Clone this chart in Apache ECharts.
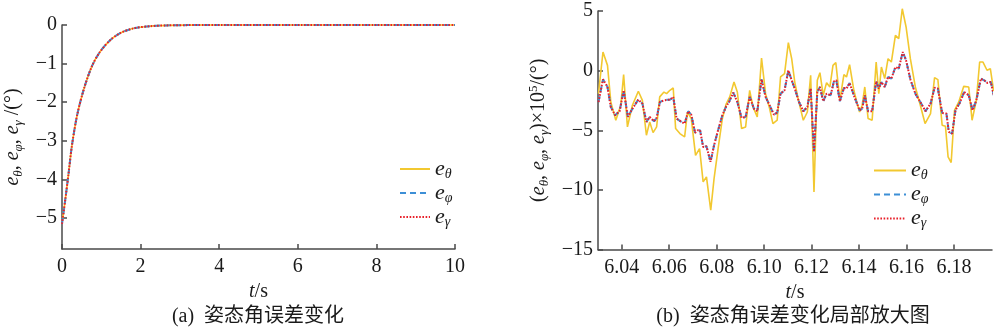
<!DOCTYPE html>
<html>
<head>
<meta charset="utf-8">
<script src="https://cdn.jsdelivr.net/npm/echarts@6/dist/echarts.min.js"></script>
<style>
  html, body { margin: 0; padding: 0; background: #fff; }
  #chart { width: 1000px; height: 330px; }
</style>
</head>
<body>
<div id="chart"></div>
<script>
// ---- (a) full run, 0–10 s: the three attitude-angle errors coincide (deg)
const tFull      = [0, 0.085, 0.17, 0.25, 0.38, 0.55, 0.76, 0.97, 1.23, 1.48, 1.82, 2.25, 2.67, 3.2, 4, 6, 8, 10];
const eThetaFull = [-5.15, -4.51, -3.82, -3.14, -2.36, -1.68, -1.07, -0.69, -0.39, -0.21, -0.086, -0.03, -0.01, -0.003, 0, 0, 0, 0];
const ePhiFull   = [-5.15, -4.51, -3.82, -3.14, -2.36, -1.68, -1.07, -0.69, -0.39, -0.21, -0.086, -0.03, -0.01, -0.003, 0, 0, 0, 0];
const eGammaFull = [-5.15, -4.51, -3.82, -3.14, -2.36, -1.68, -1.07, -0.69, -0.39, -0.21, -0.086, -0.03, -0.01, -0.003, 0, 0, 0, 0];

// ---- (b) zoomed window 6.03–6.20 s, errors ×1e5 (deg)
const tThetaZoom = [6.0302, 6.0321, 6.0340, 6.0354, 6.0375, 6.0396, 6.0408, 6.0424, 6.0445, 6.0470, 6.0487, 6.0504, 6.0518, 6.0532, 6.0547, 6.0560, 6.0578, 6.0589, 6.0603, 6.0617, 6.0627, 6.0645, 6.0665, 6.0677, 6.0693, 6.0711, 6.0728, 6.0743, 6.0757, 6.0775, 6.0789, 6.0806, 6.0824, 6.0840, 6.0855, 6.0873, 6.0887, 6.0905, 6.0922, 6.0939, 6.0953, 6.0971, 6.0989, 6.1006, 6.1023, 6.1037, 6.1055, 6.1069, 6.1086, 6.1102, 6.1116, 6.1129, 6.1143, 6.1165, 6.1182, 6.1196, 6.1210, 6.1224, 6.1235, 6.1249, 6.1263, 6.1277, 6.1290, 6.1302, 6.1319, 6.1336, 6.1347, 6.1360, 6.1378, 6.1390, 6.1402, 6.1413, 6.1424, 6.1438, 6.1455, 6.1472, 6.1483, 6.1494, 6.1508, 6.1522, 6.1536, 6.1553, 6.1567, 6.1582, 6.1598, 6.1616, 6.1637, 6.1658, 6.1678, 6.1701, 6.1718, 6.1732, 6.1750, 6.1764, 6.1775, 6.1788, 6.1802, 6.1820, 6.1841, 6.1862, 6.1876, 6.1894, 6.1908, 6.1922, 6.1939, 6.1953, 6.1967, 6.1981, 6.1996];
const eThetaZoom = [-1.93, 1.56, 0.44, -2.62, -4.17, -2.90, -0.34, -4.72, -2.90, -1.73, -2.50, -5.42, -4.30, -5.20, -4.72, -2.20, -1.80, -1.93, -1.65, -1.46, -4.86, -5.28, -5.56, -3.47, -4.02, -7.10, -6.54, -9.33, -8.91, -11.71, -9.05, -6.54, -4.02, -2.80, -2.20, -0.96, -1.79, -4.86, -4.72, -1.65, -3.05, -3.88, 1.06, -1.93, -3.19, -4.44, -4.16, -0.53, -0.25, 2.34, 1.00, -0.96, -2.35, -4.16, -3.47, -0.39, -10.17, -0.81, -0.17, -2.07, -1.01, -1.37, 0.44, 0.67, -2.49, -0.34, -0.53, 0.50, -1.65, -2.60, -3.47, -2.90, -1.37, -4.02, -4.16, 0.72, -1.93, 0.30, -0.67, 1.00, 0.72, 2.96, 2.68, 5.19, 3.66, 1.00, -1.37, -2.90, -4.44, -3.60, -0.59, -0.76, -4.58, -4.67, -7.24, -7.71, -3.33, -2.63, -1.32, -1.37, -4.16, -2.49, 0.72, 0.72, 0.03, 0.16, -1.70, -1.10, -1.30];

const tPhiZoom = [6.0302, 6.0321, 6.0340, 6.0354, 6.0372, 6.0391, 6.0408, 6.0426, 6.0445, 6.0470, 6.0487, 6.0504, 6.0518, 6.0536, 6.0547, 6.0561, 6.0578, 6.0590, 6.0603, 6.0617, 6.0631, 6.0648, 6.0665, 6.0680, 6.0693, 6.0709, 6.0721, 6.0730, 6.0743, 6.0757, 6.0774, 6.0789, 6.0806, 6.0824, 6.0840, 6.0852, 6.0870, 6.0887, 6.0905, 6.0922, 6.0939, 6.0957, 6.0971, 6.0989, 6.1006, 6.1023, 6.1041, 6.1055, 6.1069, 6.1086, 6.1102, 6.1116, 6.1129, 6.1147, 6.1165, 6.1182, 6.1196, 6.1210, 6.1224, 6.1235, 6.1249, 6.1263, 6.1280, 6.1294, 6.1304, 6.1319, 6.1336, 6.1347, 6.1360, 6.1378, 6.1392, 6.1402, 6.1413, 6.1424, 6.1438, 6.1455, 6.1472, 6.1483, 6.1494, 6.1508, 6.1522, 6.1536, 6.1553, 6.1567, 6.1584, 6.1598, 6.1616, 6.1637, 6.1658, 6.1680, 6.1701, 6.1718, 6.1732, 6.1750, 6.1768, 6.1778, 6.1792, 6.1806, 6.1824, 6.1843, 6.1862, 6.1878, 6.1894, 6.1913, 6.1927, 6.1941, 6.1955, 6.1969, 6.1983, 6.1996];
const ePhiZoom = [-2.63, -0.73, -1.37, -3.05, -3.74, -3.41, -1.65, -3.88, -3.19, -2.43, -2.77, -4.30, -3.88, -4.25, -3.97, -2.63, -2.49, -2.45, -2.45, -2.20, -4.02, -4.25, -4.44, -3.41, -3.69, -5.22, -5.00, -5.00, -6.40, -6.34, -7.65, -6.26, -5.00, -3.74, -3.00, -2.63, -1.85, -2.63, -3.97, -3.88, -2.20, -3.19, -3.41, -0.73, -2.20, -2.90, -3.69, -3.52, -1.93, -1.65, 0.03, -0.81, -1.51, -2.63, -3.41, -3.05, -1.51, -6.81, -1.79, -1.37, -2.57, -1.93, -2.07, -0.90, -0.81, -2.57, -1.46, -1.51, -1.04, -2.07, -2.80, -3.33, -3.19, -2.07, -3.41, -3.41, -0.90, -1.51, -0.96, -1.37, -0.53, -0.67, 0.30, 0.16, 1.56, 0.86, -0.73, -1.93, -2.63, -3.40, -2.77, -1.43, -1.51, -3.55, -3.60, -5.14, -5.28, -3.33, -2.71, -1.79, -2.07, -3.33, -2.49, -0.67, -0.81, -1.04, -0.95, -2.21, -1.65, -1.65];
// e_gamma tracks e_phi sample for sample in this window
const tGammaZoom = tPhiZoom.slice();
const eGammaZoom = ePhiZoom.slice();

const seriesNames = ['eθ', 'eφ', 'eγ'];
const subOf = { 'eθ': 'θ', 'eφ': 'φ', 'eγ': 'γ' };

const SERIF = "'Liberation Serif', 'Times New Roman', serif";
const CAPTION_FONT = "'Liberation Serif', 'Noto Sans CJK SC', serif";
const AXIS_COLOR = '#4a4a4a';
const TEXT_COLOR = '#1a1a1a';
const COLORS = { theta: '#F2C830', phi: '#3D8FD6', gamma: '#E8202A' };
const TICK_FONT = 20;

const pairs = (xs, ys) => xs.map((x, i) => [x, ys[i]]);
const minus = (s) => String(s).replace(/-/g, '\u2212');

// rich-text pieces shared by axis names
const rich = {
  e:   { fontFamily: SERIF, fontStyle: 'italic', fontSize: 20, lineHeight: 24, color: TEXT_COLOR },
  s:   { fontFamily: SERIF, fontStyle: 'italic', fontSize: 13, lineHeight: 13, verticalAlign: 'bottom', color: TEXT_COLOR },
  n:   { fontFamily: SERIF, fontSize: 20, lineHeight: 24, color: TEXT_COLOR },
  sup: { fontFamily: SERIF, fontSize: 13, lineHeight: 13, verticalAlign: 'top', color: TEXT_COLOR }
};
// slightly larger symbols in the legends
const legendRich = {
  e: { fontFamily: SERIF, fontStyle: 'italic', fontSize: 22, lineHeight: 24, color: TEXT_COLOR },
  s: { fontFamily: SERIF, fontStyle: 'italic', fontSize: 14, lineHeight: 14, verticalAlign: 'bottom', color: TEXT_COLOR }
};

function baseAxis(extra) {
  return Object.assign({
    type: 'value',
    axisLine: { show: true, onZero: false, lineStyle: { color: AXIS_COLOR, width: 1.5 } },
    axisTick: { show: true, inside: true, length: 5, lineStyle: { color: AXIS_COLOR, width: 1.5 } },
    splitLine: { show: false },
    axisLabel: { color: TEXT_COLOR, fontFamily: SERIF, fontSize: TICK_FONT, margin: 6 },
    nameTextStyle: { rich: rich }
  }, extra);
}

function lineSeries(name, kind, grid, data, smooth) {
  const style = {
    theta: { color: COLORS.theta, width: 1.6, type: 'solid' },
    phi:   { color: COLORS.phi,   width: 2,   type: [6, 4] },
    gamma: { color: COLORS.gamma, width: 2,   type: [1.6, 1.6] }
  }[kind];
  return {
    name: name, type: 'line', xAxisIndex: grid, yAxisIndex: grid,
    data: data, showSymbol: false, symbol: 'none', smooth: smooth,
    clip: false, animation: false,
    itemStyle: { color: style.color },
    lineStyle: style
  };
}

const legendFormatter = (name) => '{e|e}{s|' + subOf[name] + '}';

function legendAt(left, top, width) {
  return {
    data: seriesNames, orient: 'vertical', left: left, top: top,
    itemWidth: width, itemHeight: 14, itemGap: 0,
    formatter: legendFormatter,
    textStyle: { rich: legendRich, lineHeight: 24 },
    // line sample only, no marker on it
    itemStyle: { opacity: 0, color: 'rgba(0,0,0,0)', borderWidth: 0 },
    selectedMode: false
  };
}

const option = {
  animation: false,
  backgroundColor: '#ffffff',
  grid: [
    { left: 62, top: 25, width: 393, height: 224 },
    { left: 598, top: 11, width: 394, height: 238.5 }
  ],
  xAxis: [
    baseAxis({
      gridIndex: 0, min: 0, max: 10, splitNumber: 5,
      name: '{e|t}{n|/s}', nameLocation: 'middle', nameGap: 27,
      axisLabel: { color: TEXT_COLOR, fontFamily: SERIF, fontSize: TICK_FONT, margin: 8 }
    }),
    baseAxis({
      gridIndex: 1, min: 6.03, max: 6.196, splitNumber: 8,
      name: '{e|t}{n|/s}', nameLocation: 'middle', nameGap: 27,
      axisLabel: {
        color: TEXT_COLOR, fontFamily: SERIF, fontSize: TICK_FONT, margin: 8,
        showMinLabel: false, showMaxLabel: false,
        formatter: (v) => {
          const k = Math.round(v / 0.02);
          return Math.abs(v - k * 0.02) < 1e-6 ? v.toFixed(2) : '';
        }
      }
    })
  ],
  yAxis: [
    baseAxis({
      gridIndex: 0, min: -5.8, max: 0, splitNumber: 6,
      name: '{e|e}{s|θ}{n|, }{e|e}{s|φ}{n|, }{e|e}{s|γ}{n| /(°)}',
      nameLocation: 'middle', nameGap: 37, nameRotate: 90,
      axisLabel: {
        color: TEXT_COLOR, fontFamily: SERIF, fontSize: TICK_FONT, margin: 5,
        showMinLabel: false,
        formatter: (v) => Number.isInteger(Math.round(v * 1e6) / 1e6) ? minus(Math.round(v)) : ''
      }
    }),
    baseAxis({
      gridIndex: 1, min: -15, max: 5, interval: 5,
      name: '{n|(}{e|e}{s|θ}{n|, }{e|e}{s|φ}{n|, }{e|e}{s|γ}{n|)×10}{sup|5}{n|/(°)}',
      nameLocation: 'middle', nameGap: 47, nameRotate: 90,
      axisLabel: {
        color: TEXT_COLOR, fontFamily: SERIF, fontSize: TICK_FONT, margin: 5,
        formatter: (v) => minus(v)
      }
    })
  ],
  legend: [
    legendAt(394, 152, 30),
    legendAt(868, 153.5, 32)
  ],
  series: [
    lineSeries('eθ', 'theta', 0, pairs(tFull, eThetaFull), 0.3),
    lineSeries('eφ', 'phi',   0, pairs(tFull, ePhiFull),   0.3),
    lineSeries('eγ', 'gamma', 0, pairs(tFull, eGammaFull), 0.3),
    lineSeries('eθ', 'theta', 1, pairs(tThetaZoom, eThetaZoom), false),
    lineSeries('eφ', 'phi',   1, pairs(tPhiZoom, ePhiZoom),     false),
    lineSeries('eγ', 'gamma', 1, pairs(tGammaZoom, eGammaZoom), false)
  ],
  graphic: [
    {
      type: 'text', x: 258, y: 317,
      style: { text: '(a)  姿态角误差变化', align: 'center', verticalAlign: 'middle',
               font: '20px ' + CAPTION_FONT, fill: TEXT_COLOR }
    },
    {
      type: 'text', x: 793, y: 317,
      style: { text: '(b)  姿态角误差变化局部放大图', align: 'center', verticalAlign: 'middle',
               font: '20px ' + CAPTION_FONT, fill: TEXT_COLOR }
    }
  ]
};

const chart = echarts.init(document.getElementById('chart'), null, { renderer: 'canvas' });
chart.setOption(option);
</script>
</body>
</html>
